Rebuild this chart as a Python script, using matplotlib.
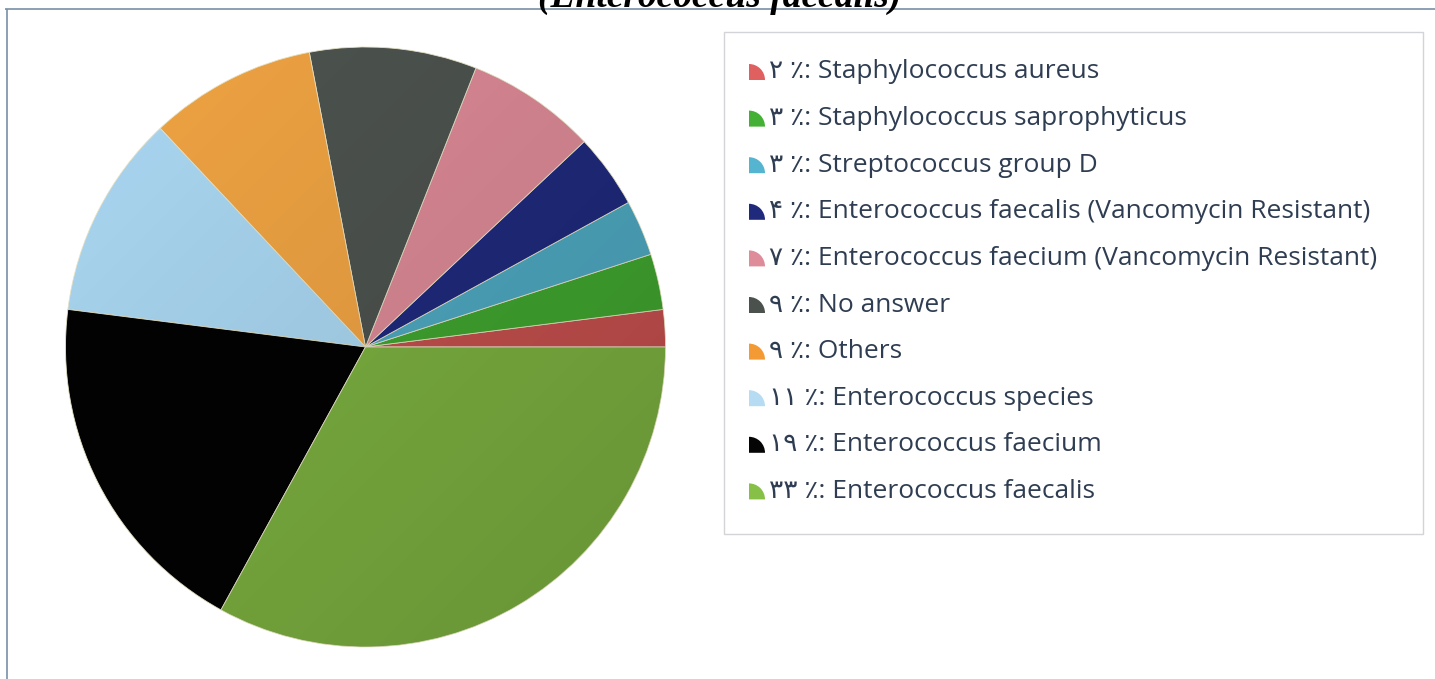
import numpy as np
import matplotlib
matplotlib.use('Agg')
import matplotlib.pyplot as plt
from matplotlib.patches import Wedge, Rectangle, Circle

# data, in the order the slices go round (counter-clockwise from 3 o'clock)
names = ['Staphylococcus aureus', 'Staphylococcus saprophyticus', 'Streptococcus group D',
         'Enterococcus faecalis (Vancomycin Resistant)', 'Enterococcus faecium (Vancomycin Resistant)',
         'No answer', 'Others', 'Enterococcus species', 'Enterococcus faecium', 'Enterococcus faecalis']
values = [2, 3, 3, 4, 7, 9, 9, 11, 19, 33]
pct_labels = ['۲', '۳', '۳', '۴', '۷', '۹', '۹', '۱۱', '۱۹', '۳۳']
pie_colors = ['#c4504e', '#40a52f', '#4ea8c0', '#1f2a7c', '#dc8a96',
              '#4d534f', '#f0a443', '#aad7f2', '#030303', '#7cb040']
key_colors = ['#e06060', '#44b035', '#55b5d0', '#1f2a7c', '#de8c9a',
              '#4b514d', '#f39a35', '#b5dcf3', '#050505', '#86c046']
title = '(Enterococcus faecalis)'

W, H = 1435, 679
fig = plt.figure(figsize=(W / 100, H / 100), dpi=100)

def fx(px):
    return px / W

def fy(py):
    return 1 - py / H

# pie
cx, cy, r = 365.5, 347, 300
ax = fig.add_axes([fx(cx - r), fy(cy + r), 2 * r / W, 2 * r / H])
wedges, _ = ax.pie(values, colors=pie_colors, startangle=0, counterclock=True, radius=1,
                   wedgeprops=dict(edgecolor='#e8e4c8', linewidth=0.6))
# soft shading: slices get a bit darker towards the bottom right
g = np.linspace(0, 1, 200)
gx, gy = np.meshgrid(g, g)
shade = np.zeros((200, 200, 4))
shade[..., 3] = 0.16 * (gx + (1 - gy)) / 2
im = ax.imshow(shade, extent=[-1, 1, -1, 1], zorder=3, origin='lower')
im.set_clip_path(Circle((0, 0), 1, transform=ax.transData))
ax.set_xlim(-1, 1)
ax.set_ylim(-1, 1)
ax.set_aspect('equal')
ax.axis('off')

# overlay axes in pixel units for frame, title and legend
lax = fig.add_axes([0, 0, 1, 1])
lax.set_xlim(0, W)
lax.set_ylim(H, 0)
lax.axis('off')
lax.patch.set_alpha(0)

lax.plot([5, 1435], [9, 9], color='#7890a4', lw=1.2, solid_capstyle='butt')
lax.plot([7, 7], [9, 679], color='#7890a4', lw=1.2, solid_capstyle='butt')

# title, cut at the top like the reference
lax.text(720, 7, title, ha='center', va='baseline', fontsize=27,
         family='Liberation Serif', fontweight='bold', fontstyle='italic', color='black')

# legend box
lax.add_patch(Rectangle((724, 32), 1423 - 724, 534 - 32, facecolor='white',
                        edgecolor='#d2d4d8', lw=1.0))

row0, step = 72, 46.6
for i, (nm, p, c) in enumerate(zip(names, pct_labels, key_colors)):
    y = row0 + i * step
    lax.add_patch(Wedge((749, y + 8), 16, 270, 360, facecolor=c, edgecolor='none'))
    lax.text(769, y, p + ' ٪: ' + nm, ha='left', va='center', fontsize=19,
             family=['Open Sans', 'DejaVu Sans'], color='#2f3d52')

fig.savefig('out.png', dpi=100)
